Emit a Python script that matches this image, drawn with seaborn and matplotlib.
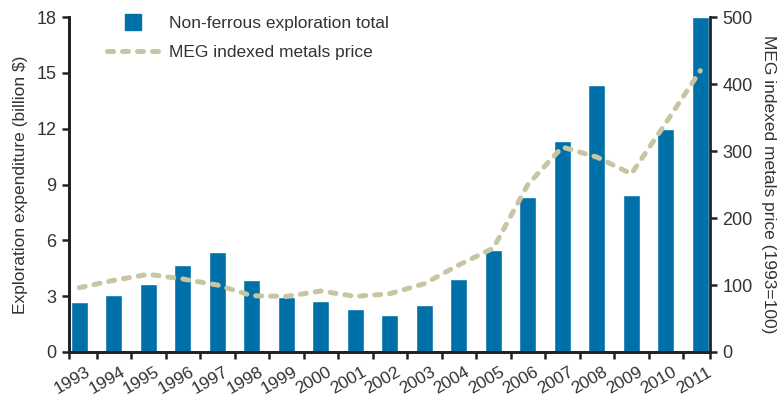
import numpy as np
import pandas as pd
import matplotlib
matplotlib.use('Agg')
import matplotlib.pyplot as plt
import matplotlib.transforms as mtransforms
from matplotlib.lines import Line2D
import seaborn as sns

years = ['1993', '1994', '1995', '1996', '1997', '1998', '1999', '2000', '2001', '2002',
         '2003', '2004', '2005', '2006', '2007', '2008', '2009', '2010', '2011']
exploration = [2.7, 3.05, 3.65, 4.7, 5.4, 3.85, 2.95, 2.75, 2.3, 2.0,
               2.5, 3.95, 5.5, 8.35, 11.35, 14.35, 8.45, 12.0, 18.0]
meg_price = [96, 107, 116, 109, 100, 84, 83, 91, 83, 87,
             102, 130, 155, 250, 306, 291, 266, 342, 420]

BLUE = '#0070a8'
BEIGE = '#c9c5a2'
TEXT = '#333333'
DASH = (0, (1.2, 1.8))

sns.set_style('ticks')
plt.rcParams['font.family'] = ['Liberation Sans', 'DejaVu Sans']
plt.rcParams['text.color'] = TEXT
plt.rcParams['axes.labelcolor'] = TEXT
plt.rcParams['xtick.color'] = '#222222'
plt.rcParams['ytick.color'] = '#222222'
plt.rcParams['xtick.labelcolor'] = TEXT
plt.rcParams['ytick.labelcolor'] = TEXT

df = pd.DataFrame({'year': years, 'pos': np.arange(len(years)),
                   'exploration': exploration, 'price': meg_price})

fig = plt.figure(figsize=(7.79, 3.98), dpi=100)
ax = fig.add_axes([0.0886, 0.1156, 0.8228, 0.8414])

sns.barplot(data=df, x='pos', y='exploration', color=BLUE, width=0.5,
            saturation=1, native_scale=True, ax=ax)
ax.set_xlim(-0.3, len(years) - 1 + 0.28)
ax.set_ylim(0, 18)
ax.set_yticks([0, 3, 6, 9, 12, 15, 18])
ax.set_ylabel('Exploration expenditure (billion $)', fontsize=12.5, labelpad=6)
ax.set_xlabel('')

# year labels under bars, tick marks between bars
ax.set_xticks(df['pos'])
ax.set_xticklabels(years, rotation=30, ha='right', rotation_mode='anchor', fontsize=12.5)
ax.tick_params(axis='x', which='major', length=0, pad=9)
shift = mtransforms.ScaledTranslation(6 / 100, 0, fig.dpi_scale_trans)
for lab in ax.get_xticklabels():
    lab.set_transform(lab.get_transform() + shift)
ax.set_xticks(list(np.arange(len(years) - 1) + 0.5) + [-0.3, len(years) - 1 + 0.28], minor=True)
ax.tick_params(axis='x', which='minor', length=5, width=1.8, direction='out')
ax.tick_params(axis='y', length=5, width=1.8, labelsize=13, pad=4)

ax2 = ax.twinx()
sns.lineplot(data=df, x='pos', y='price', color=BEIGE, lw=3.6, ax=ax2,
             dashes=False, linestyle=DASH)
for ln in ax2.lines:
    ln.set_dash_capstyle('round')
ax2.set_ylim(0, 500)
ax2.set_yticks([0, 100, 200, 300, 400, 500])
ax2.set_ylabel('MEG indexed metals price (1993=100)', fontsize=12.5, rotation=270, labelpad=17)
ax2.set_xlabel('')
ax2.tick_params(axis='y', length=5, width=1.8, labelsize=13, pad=4)

for a in (ax, ax2):
    a.spines['top'].set_visible(False)
    for s in ('left', 'right', 'bottom'):
        a.spines[s].set_linewidth(2)
        a.spines[s].set_color('#222222')
ax.spines['right'].set_visible(False)

handles = [Line2D([], [], marker='s', markersize=12, color=BLUE, linestyle='none'),
           Line2D([], [], color=BEIGE, lw=3.6, linestyle=DASH, dash_capstyle='round')]
ax.legend(handles, ['Non-ferrous exploration total', 'MEG indexed metals price'],
          loc='upper left', bbox_to_anchor=(0.035, 1.05), frameon=False, fontsize=12.5,
          handlelength=3.0, handletextpad=0.55, labelspacing=0.8)

fig.savefig('out.png', dpi=100)
